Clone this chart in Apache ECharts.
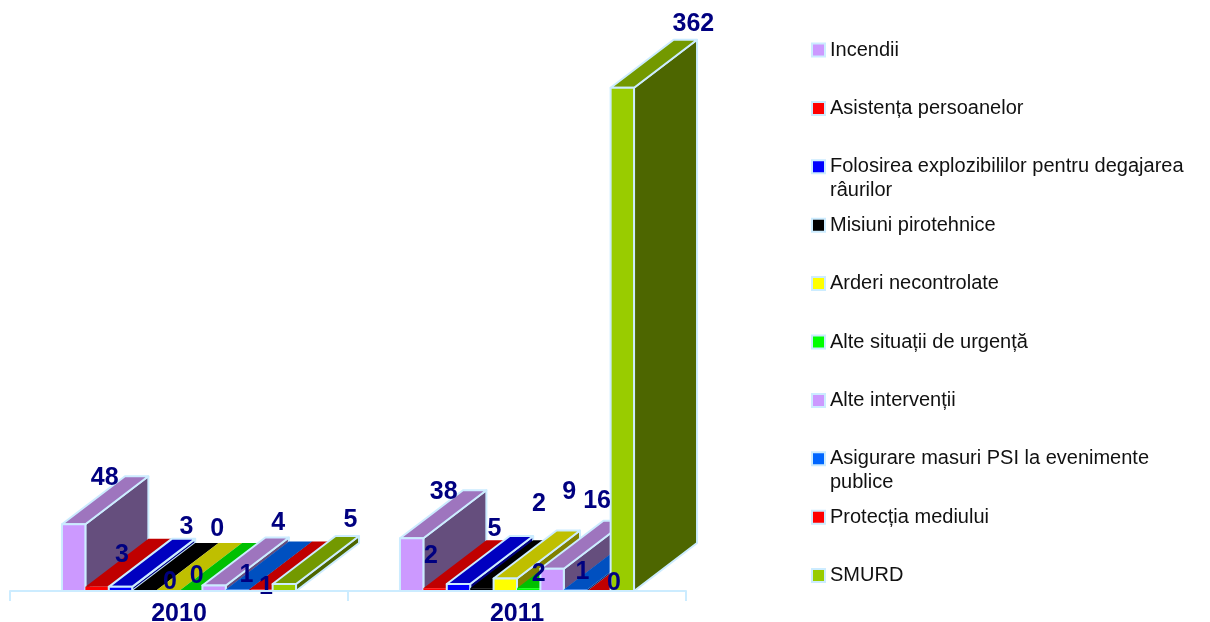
<!DOCTYPE html>
<html>
<head>
<meta charset="utf-8">
<title>Interventii</title>
<script src="https://cdn.jsdelivr.net/npm/echarts@6/dist/echarts.min.js"></script>
<style>
html,body{margin:0;padding:0;background:#fff;}
#main{width:1210px;height:622px;}
</style>
</head>
<body>
<div id="main"></div>
<script>
var categories = ['2010', '2011'];
var seriesNames = ['Incendii', 'Asistența persoanelor', 'Folosirea explozibililor pentru degajarea râurilor',
    'Misiuni pirotehnice', 'Arderi necontrolate', 'Alte situații de urgență', 'Alte intervenții',
    'Asigurare masuri PSI la evenimente publice', 'Protecția mediului', 'SMURD'];
var values2010 = [48, 3, 3, 0, 0, 0, 4, 1, 1, 5];
var values2011 = [38, 2, 5, 2, 9, 2, 16, 1, 0, 362];

// culori: fata, capac, lateral
var frontColors = ['#CC99FF', '#FF0000', '#0000FF', '#000000', '#FFFF00', '#00FF00', '#CC99FF', '#0066FF', '#FF0000', '#99CC00'];
var topColors = ['#9E75BE', '#C00000', '#0000C0', '#000000', '#BFBF00', '#00C000', '#9E75BE', '#0050C0', '#C00000', '#739900'];
var sideColors = ['#654E7D', '#800000', '#000080', '#000000', '#808000', '#008000', '#654E7D', '#003380', '#800000', '#4D6600'];
var edgeColor = '#CCECFF';

// etichetele sunt mutate manual fata de coltul barei, ca in original
var labelShift = [
    [[31, -46], [25, -32], [66, -60], [26, -9], [50, -62], [6, -15], [64, -62], [9, -15], [5, -3], [66, -64]],
    [[32, -46], [-4, -32], [36, -55], [57, -84], [64, -86], [10, -14], [45, -68], [7, -18], [15, -8], [71, -64]]
];
var depthX = 63, depthY = -48;

function renderBar(params, api) {
    var cat = api.value(0);
    var val = api.value(1);
    var i = params.seriesIndex;
    var band = api.size([1, 0])[0];
    var w = band / 14.44;
    var top = api.coord([cat, val]);
    var base = api.coord([cat, 0]);
    var cx = base[0] + (i - 4.5) * w;
    var x0 = cx - w / 2, x1 = cx + w / 2;
    var y0 = top[1], y1 = base[1];
    // rosu de la Asistenta si valorile mici nu au contur in original
    var hasEdge = val >= 3 && i !== 1;
    var line = hasEdge ? { stroke: edgeColor, lineWidth: 2, lineJoin: 'round' } : {};
    var children = [];
    if (val > 0) {
        children.push({
            type: 'polygon',
            shape: { points: [[x1, y1], [x1, y0], [x1 + depthX, y0 + depthY], [x1 + depthX, y1 + depthY]] },
            style: Object.assign({ fill: sideColors[i] }, line)
        });
    }
    children.push({
        type: 'polygon',
        shape: { points: [[x0, y0], [x1, y0], [x1 + depthX, y0 + depthY], [x0 + depthX, y0 + depthY]] },
        style: Object.assign({ fill: topColors[i] }, line)
    });
    if (val > 0) {
        children.push({
            type: 'rect',
            shape: { x: x0, y: y0, width: w, height: y1 - y0 },
            style: Object.assign({ fill: frontColors[i] }, line)
        });
    }
    var shift = labelShift[cat][i];
    children.push({
        type: 'text',
        z2: 100,
        style: {
            text: String(val),
            x: cx + shift[0],
            y: y0 + shift[1],
            fill: '#000080',
            font: 'bold 25px "Liberation Sans", Arial, sans-serif',
            align: 'center',
            verticalAlign: 'middle'
        }
    });
    return { type: 'group', children: children };
}

var series = seriesNames.map(function (name, i) {
    return {
        type: 'custom',
        name: name,
        renderItem: renderBar,
        itemStyle: { color: frontColors[i] },
        data: [[0, values2010[i]], [1, values2011[i]]]
    };
});

// cate o legenda pentru fiecare serie, pasul e fix chiar daca textul are doua randuri
var legendLine = 24;
var legends = seriesNames.map(function (name, i) {
    var wrap = name.length > 40;
    var mid = 50 + 58.4 * i;
    return {
        data: [name],
        left: 811,
        top: wrap ? mid - legendLine * 1.5 : mid - legendLine / 2,
        icon: 'rect',
        itemWidth: 13,
        itemHeight: 13,
        padding: 0,
        selectedMode: false,
        itemStyle: { borderColor: edgeColor, borderWidth: 2 },
        // randul gol de sus tine simbolul in dreptul primului rand
        formatter: function (n) {
            if (n.indexOf('râurilor') > 0) { return '\n' + n.replace(' râurilor', '\nrâurilor'); }
            if (n.indexOf('publice') > 0) { return '\n' + n.replace(' publice', '\npublice'); }
            return n;
        },
        textStyle: {
            fontFamily: '"Liberation Sans", Arial, sans-serif',
            fontSize: 20,
            lineHeight: legendLine,
            color: '#111'
        }
    };
});

var myChart = echarts.init(document.getElementById('main'));
var option = {
    animation: false,
    backgroundColor: '#fff',
    legend: legends,
    grid: { left: 10, width: 676, top: 35, height: 556, outerBoundsMode: 'none' },
    xAxis: {
        type: 'category',
        data: categories,
        z: 5,
        axisLine: { lineStyle: { color: edgeColor, width: 2 } },
        axisTick: { show: true, length: 10, lineStyle: { color: edgeColor, width: 2 } },
        axisLabel: {
            margin: 11,
            color: '#000080',
            fontFamily: '"Liberation Sans", Arial, sans-serif',
            fontWeight: 'bold',
            fontSize: 25
        }
    },
    yAxis: { type: 'value', min: 0, max: 400, show: false },
    series: series
};
myChart.setOption(option);
</script>
</body>
</html>
